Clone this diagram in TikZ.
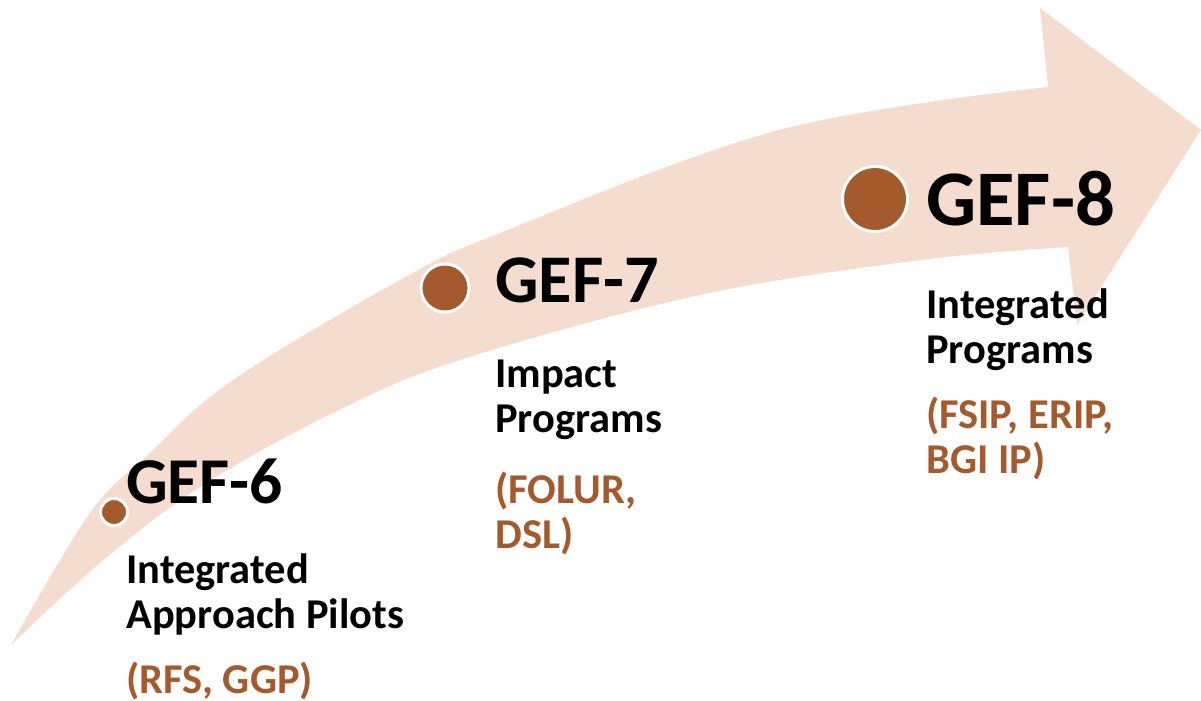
\documentclass[tikz,border=0pt]{standalone}
\usepackage{fontspec}
\setmainfont{Carlito}
\usepackage{xcolor}
\definecolor{gefpeach}{RGB}{244,220,206}
\definecolor{gefbrown}{RGB}{165,90,45}
\usepackage{tikz}
\usetikzlibrary{positioning, calc}
\tikzset{
  band/.style={fill=gefpeach},
  dot/.style={
    circle, fill=gefbrown, draw=white,
    line width=2.1pt, inner sep=0pt
  },
  title/.style={
    anchor=base west, inner sep=0pt,
    font=\fontsize{#1}{#1}\selectfont\bfseries
  },
  descr/.style={
    anchor=base west, inner sep=0pt, align=left,
    font=\fontsize{30.2}{32}\selectfont\bfseries
  },
  tag/.style={descr, text=gefbrown},
}

\begin{document}
\begin{tikzpicture}[x=0.025cm, y=-0.025cm]
  \useasboundingbox (0,0) rectangle (1201,701);

  % the curved arrow
  \fill[band] plot[smooth, tension=0.6] coordinates {(11,645) (90,513) (150,453) (233,380) (400,280) (500,233) (779,130) (1048,87)}
    -- (1040,8) -- (1201,130) -- (1077,325) -- (1068,247)
    -- plot[smooth, tension=0.6] coordinates {(1068,247) (921,260) (700,295) (460,360) (333,413) (200,487) (100,563) (11,645)}
    -- cycle;

  \node (dot6) [dot, minimum size=0.675cm] at (114,512) {};
  \node (dot7) [dot, minimum size=1.2cm]   at (445,288) {};
  \node (dot8) [dot, minimum size=1.625cm] at (875,199) {};

  % base anchor of a two-line text is its last line
  \node (gef6)     [title=46.5] at (126,503) {GEF-6};
  \node (gef6desc) [descr]      at (126,628) {Integrated\\Approach Pilots};
  \node (gef6tag)  [tag]        at (126,693) {(RFS, GGP)};

  \node (gef7)     [title=48.5] at (495,303) {GEF-7};
  \node (gef7desc) [descr]      at (495,432) {Impact\\Programs};
  \node (gef7tag)  [tag]        at (495,548) {(FOLUR,\\DSL)};

  \node (gef8)     [title=56]   at (926,226) {GEF-8};
  \node (gef8desc) [descr]      at (926,363) {Integrated\\Programs};
  \node (gef8tag)  [tag]        at (926,473) {(FSIP, ERIP,\\BGI IP)};
\end{tikzpicture}
\end{document}
